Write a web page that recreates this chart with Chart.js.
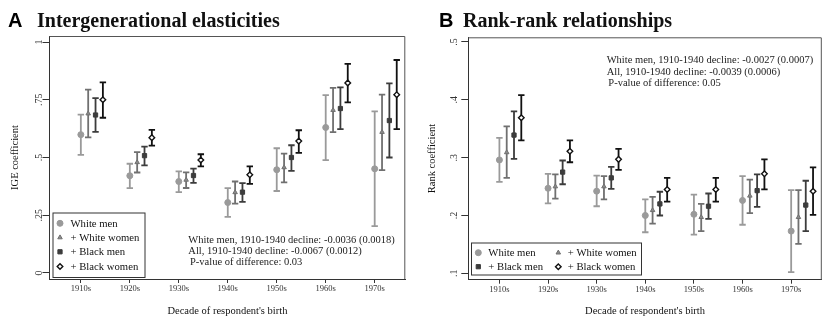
<!DOCTYPE html>
<html>
<head>
<meta charset="utf-8">
<script src="https://cdn.jsdelivr.net/npm/chart.js@4.4.1/dist/chart.umd.min.js"></script>
<style>
    html, body { margin: 0; padding: 0; background: #fff; }
    body { width: 823px; height: 320px; overflow: hidden; position: relative; }
    #panelA { position: absolute; left: 0; top: 0; }
    #panelB { position: absolute; left: 410px; top: 0; }
</style>
</head>
<body>
<canvas id="panelA" width="410" height="320"></canvas>
<canvas id="panelB" width="416" height="320"></canvas>
<script>
// decades of birth and series
const decades = [1910, 1920, 1930, 1940, 1950, 1960, 1970];
const decadeLabels = ['1910s', '1920s', '1930s', '1940s', '1950s', '1960s', '1970s'];
const seriesNames = ['White men', '+ White women', '+ Black men', '+ Black women'];

// Panel A: intergenerational elasticities (estimate, 95% CI low, high)
const igeWhiteMen = [0.599, 0.421, 0.396, 0.305, 0.447, 0.630, 0.451];
const igeWhiteMenLo = [0.511, 0.367, 0.350, 0.243, 0.355, 0.489, 0.203];
const igeWhiteMenHi = [0.686, 0.473, 0.440, 0.367, 0.540, 0.770, 0.700];
const igeWhiteWomen = [0.690, 0.479, 0.403, 0.349, 0.457, 0.705, 0.610];
const igeWhiteWomenLo = [0.587, 0.435, 0.368, 0.300, 0.392, 0.610, 0.445];
const igeWhiteWomenHi = [0.794, 0.523, 0.436, 0.396, 0.517, 0.801, 0.772];
const igeBlackMen = [0.684, 0.508, 0.422, 0.350, 0.500, 0.712, 0.660];
const igeBlackMenLo = [0.611, 0.466, 0.390, 0.308, 0.442, 0.623, 0.500];
const igeBlackMenHi = [0.757, 0.547, 0.452, 0.389, 0.553, 0.804, 0.821];
const igeBlackWomen = [0.750, 0.586, 0.489, 0.425, 0.571, 0.823, 0.772];
const igeBlackWomenLo = [0.672, 0.551, 0.462, 0.386, 0.520, 0.739, 0.623];
const igeBlackWomenHi = [0.825, 0.620, 0.514, 0.462, 0.618, 0.905, 0.922];
const igeTicks = [0, 0.25, 0.5, 0.75, 1];
const igeTickLabels = ['0', '.25', '.5', '.75', '1'];

// Panel B: rank-rank slopes
const rrWhiteMen = [0.296, 0.247, 0.242, 0.200, 0.202, 0.226, 0.173];
const rrWhiteMenLo = [0.258, 0.221, 0.216, 0.171, 0.167, 0.184, 0.102];
const rrWhiteMenHi = [0.334, 0.272, 0.269, 0.228, 0.236, 0.268, 0.244];
const rrWhiteWomen = [0.309, 0.250, 0.250, 0.209, 0.197, 0.234, 0.197];
const rrWhiteWomenLo = [0.265, 0.229, 0.228, 0.186, 0.173, 0.204, 0.151];
const rrWhiteWomenHi = [0.354, 0.271, 0.268, 0.232, 0.220, 0.262, 0.244];
const rrBlackMen = [0.339, 0.275, 0.265, 0.220, 0.216, 0.243, 0.218];
const rrBlackMenLo = [0.298, 0.254, 0.246, 0.200, 0.194, 0.215, 0.173];
const rrBlackMenHi = [0.380, 0.295, 0.284, 0.241, 0.238, 0.271, 0.260];
const rrBlackWomen = [0.369, 0.311, 0.297, 0.245, 0.245, 0.272, 0.242];
const rrBlackWomenLo = [0.330, 0.292, 0.279, 0.224, 0.224, 0.245, 0.201];
const rrBlackWomenHi = [0.408, 0.330, 0.315, 0.265, 0.265, 0.297, 0.283];
const rrTicks = [0.1, 0.2, 0.3, 0.4, 0.5];
const rrTickLabels = ['.1', '.2', '.3', '.4', '.5'];

const SERIF = '"Liberation Serif", "Times New Roman", serif';
const SANS = '"Liberation Sans", Arial, sans-serif';

// dodge within a decade (years)
const seriesOffsets = [0, 1.5, 3, 4.5];
const seriesStyles = [
    { color: '#9a9a9a', fill: '#9a9a9a', pointStyle: 'circle', radius: 3, bw: 1 },
    { color: '#707070', fill: '#8c8c8c', pointStyle: 'triangle', radius: 2.6, bw: 1 },
    { color: '#3c3c3c', fill: '#3c3c3c', pointStyle: 'rect', radius: 3, bw: 1 },
    { color: '#111111', fill: '#ffffff', pointStyle: 'rectRot', radius: 2.8, bw: 1.4 }
];

function buildDatasets(est, lo, hi) {
    return est.map((vals, s) => ({
        label: seriesNames[s],
        data: decades.map((d, i) => ({ x: d + seriesOffsets[s], y: vals[i] })),
        lo: lo[s],
        hi: hi[s],
        borderColor: seriesStyles[s].color,
        backgroundColor: seriesStyles[s].fill,
        pointStyle: seriesStyles[s].pointStyle,
        pointRadius: seriesStyles[s].radius,
        pointBorderWidth: seriesStyles[s].bw,
        pointHoverRadius: seriesStyles[s].radius,
        showLine: false
    }));
}

function drawMarker(ctx, st, x, y) {
    ctx.save();
    ctx.fillStyle = st.fill;
    ctx.strokeStyle = st.color;
    ctx.lineWidth = st.bw;
    Chart.helpers.drawPoint(ctx, { pointStyle: st.pointStyle, radius: st.radius, rotation: 0, borderWidth: st.bw }, x, y);
    ctx.restore();
}

const panelDecor = {
    id: 'panelDecor',
    beforeDatasetsDraw(chart) {
        const ctx = chart.ctx;
        const yScale = chart.scales.y;
        chart.data.datasets.forEach((ds, i) => {
            const meta = chart.getDatasetMeta(i);
            ctx.save();
            ctx.strokeStyle = ds.borderColor;
            ctx.lineWidth = 1.8;
            meta.data.forEach((pt, j) => {
                const yl = yScale.getPixelForValue(ds.lo[j]);
                const yh = yScale.getPixelForValue(ds.hi[j]);
                ctx.beginPath();
                ctx.moveTo(pt.x, yl); ctx.lineTo(pt.x, yh);
                ctx.moveTo(pt.x - 3.2, yl); ctx.lineTo(pt.x + 3.2, yl);
                ctx.moveTo(pt.x - 3.2, yh); ctx.lineTo(pt.x + 3.2, yh);
                ctx.stroke();
            });
            ctx.restore();
        });
    },
    afterDraw(chart, args, opts) {
        const ctx = chart.ctx;
        const area = chart.chartArea;
        const yScale = chart.scales.y;
        ctx.save();

        // top and right frame
        ctx.strokeStyle = '#555';
        ctx.lineWidth = 1;
        ctx.beginPath();
        ctx.moveTo(area.left, area.top + 0.5);
        ctx.lineTo(area.right - 0.5, area.top + 0.5);
        ctx.lineTo(area.right - 0.5, area.bottom);
        ctx.stroke();

        // rotated y tick labels
        ctx.fillStyle = '#333';
        ctx.font = '10px ' + SERIF;
        ctx.textAlign = 'center';
        ctx.textBaseline = 'middle';
        opts.yTicks.forEach((v, i) => {
            ctx.save();
            ctx.translate(opts.yLabelX, yScale.getPixelForValue(v));
            ctx.rotate(-Math.PI / 2);
            ctx.fillText(opts.yTickLabels[i], 0, 0);
            ctx.restore();
        });

        // panel heading
        ctx.fillStyle = '#000';
        ctx.textAlign = 'left';
        ctx.textBaseline = 'alphabetic';
        ctx.font = 'bold 20px ' + SANS;
        ctx.fillText(opts.letter, opts.letterX, 26.5);
        ctx.font = 'bold 20px ' + SERIF;
        ctx.fillStyle = '#111';
        ctx.fillText(opts.title, opts.titleX, 26.5);

        // legend box
        const lg = opts.legend;
        ctx.fillStyle = '#fff';
        ctx.fillRect(lg.x, lg.y, lg.w, lg.h);
        ctx.strokeStyle = '#333';
        ctx.strokeRect(lg.x + 0.5, lg.y + 0.5, lg.w, lg.h);
        ctx.font = '10.7px ' + SERIF;
        ctx.textBaseline = 'middle';
        lg.items.forEach((it, s) => {
            drawMarker(ctx, seriesStyles[s], it.mx, it.y);
            ctx.fillStyle = '#111';
            ctx.fillText(seriesNames[s], it.tx, it.y + 0.5);
        });

        // decline notes
        ctx.font = '10.5px ' + SERIF;
        ctx.fillStyle = '#222';
        opts.notes.forEach(n => ctx.fillText(n.text, n.x, n.y));
        ctx.restore();
    }
};

function makePanel(canvasId, datasets, cfg) {
    return new Chart(document.getElementById(canvasId), {
        type: 'scatter',
        data: { datasets },
        plugins: [panelDecor],
        options: {
            responsive: false,
            animation: false,
            layout: { padding: cfg.padding },
            plugins: {
                legend: { display: false },
                tooltip: { enabled: false },
                panelDecor: cfg.decor
            },
            scales: {
                x: {
                    type: 'linear',
                    min: 1903.6,
                    max: cfg.xMax,
                    afterBuildTicks: s => { s.ticks = decades.map(v => ({ value: v })); },
                    afterFit: s => { s.height = cfg.xHeight; },
                    grid: { drawOnChartArea: false, drawTicks: true, tickLength: 4, color: '#333' },
                    border: { display: true, color: '#333', width: 1 },
                    ticks: {
                        padding: 1,
                        color: '#333',
                        font: { family: SERIF, size: 8.5 },
                        callback: v => decadeLabels[decades.indexOf(v)]
                    },
                    title: {
                        display: true,
                        text: "Decade of respondent's birth",
                        color: '#111',
                        font: { family: SERIF, size: 10.5 },
                        padding: 2
                    }
                },
                y: {
                    type: 'linear',
                    min: cfg.yMin,
                    max: cfg.yMax,
                    afterBuildTicks: s => { s.ticks = cfg.decor.yTicks.map(v => ({ value: v })); },
                    afterFit: s => { s.width = cfg.yWidth; },
                    grid: { drawOnChartArea: false, drawTicks: true, tickLength: 7, color: '#333' },
                    border: { display: true, color: '#333', width: 1 },
                    ticks: { display: false },
                    title: {
                        display: true,
                        text: cfg.yTitle,
                        color: '#111',
                        font: { family: SERIF, size: 10.5 },
                        padding: cfg.yTitlePad
                    }
                }
            }
        }
    });
}

makePanel('panelA',
    buildDatasets(
        [igeWhiteMen, igeWhiteWomen, igeBlackMen, igeBlackWomen],
        [igeWhiteMenLo, igeWhiteWomenLo, igeBlackMenLo, igeBlackWomenLo],
        [igeWhiteMenHi, igeWhiteWomenHi, igeBlackMenHi, igeBlackWomenHi]),
    {
        padding: { top: 36, right: 4.7, left: 0, bottom: 0 },
        xHeight: 41,
        xMax: 1976.25,
        yWidth: 49.5,
        yMin: -0.026,
        yMax: 1.026,
        yTitle: 'IGE coefficient',
        yTitlePad: 8.7,
        decor: {
            letter: 'A', letterX: 8, title: 'Intergenerational elasticities', titleX: 37,
            yTicks: igeTicks, yTickLabels: igeTickLabels, yLabelX: 39.5,
            legend: {
                x: 52.5, y: 212.5, w: 92, h: 64.5,
                items: [
                    { mx: 60, tx: 70.5, y: 223.3 },
                    { mx: 60, tx: 70.5, y: 237.5 },
                    { mx: 60, tx: 70.5, y: 251.8 },
                    { mx: 60, tx: 70.5, y: 266.5 }
                ]
            },
            notes: [
                { text: 'White men, 1910-1940 decline: -0.0036 (0.0018)', x: 188.3, y: 240 },
                { text: 'All, 1910-1940 decline: -0.0067 (0.0012)', x: 188.3, y: 251.3 },
                { text: 'P-value of difference: 0.03', x: 190, y: 262.6 }
            ]
        }
    });

makePanel('panelB',
    buildDatasets(
        [rrWhiteMen, rrWhiteWomen, rrBlackMen, rrBlackWomen],
        [rrWhiteMenLo, rrWhiteWomenLo, rrBlackMenLo, rrBlackWomenLo],
        [rrWhiteMenHi, rrWhiteWomenHi, rrBlackMenHi, rrBlackWomenHi]),
    {
        padding: { top: 37.3, right: 1.5, left: 0, bottom: 0 },
        xHeight: 40.3,
        xMax: 1976.3,
        yWidth: 58.3,
        yMin: 0.089,
        yMax: 0.508,
        yTitle: 'Rank coefficient',
        yTitlePad: 15.7,
        decor: {
            letter: 'B', letterX: 29, title: 'Rank-rank relationships', titleX: 53,
            yTicks: rrTicks, yTickLabels: rrTickLabels, yLabelX: 44.5,
            legend: {
                x: 61, y: 242.5, w: 170, h: 32,
                items: [
                    { mx: 68.3, tx: 78.3, y: 252.7 },
                    { mx: 148.3, tx: 157.7, y: 252.7 },
                    { mx: 68.3, tx: 78.3, y: 266.7 },
                    { mx: 148.3, tx: 157.7, y: 266.7 }
                ]
            },
            notes: [
                { text: 'White men, 1910-1940 decline: -0.0027 (0.0007)', x: 196.7, y: 60.5 },
                { text: 'All, 1910-1940 decline: -0.0039 (0.0006)', x: 196.7, y: 72 },
                { text: 'P-value of difference: 0.05', x: 198.3, y: 83.3 }
            ]
        }
    });
</script>
</body>
</html>
